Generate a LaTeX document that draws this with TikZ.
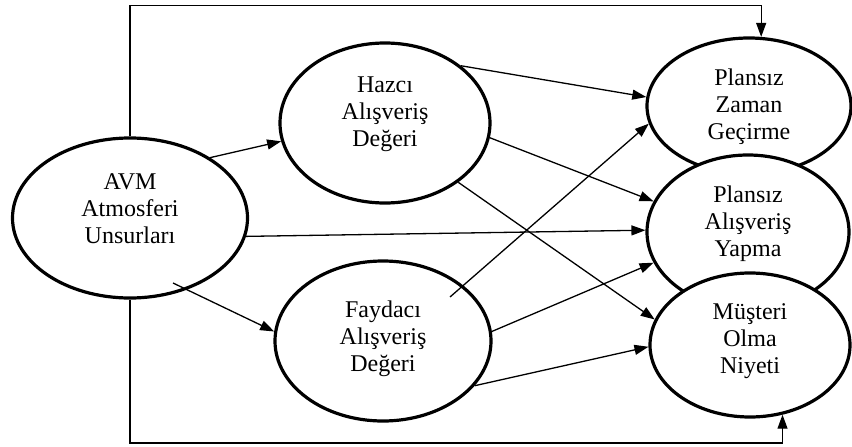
\documentclass[tikz,border=0pt]{standalone}
\usepackage{fontspec}
\setmainfont{Liberation Serif}
\usetikzlibrary{arrows.meta,calc,shapes.geometric}
\begin{document}
\begin{tikzpicture}[x=1pt,y=-1pt,
  ell/.style={ellipse,draw=black,line width=3.2pt,fill=white,inner sep=0pt},
  lbl/.style={align=center,font=\fontsize{24}{27}\selectfont,inner sep=0pt},
  arr/.style={line width=1.3pt,-{Triangle[length=14pt,width=10pt]}}]
\useasboundingbox (0,0) rectangle (852,447);
% ellipses
\node[ell,minimum width=235pt,minimum height=160pt] (A) at (130,218) {};
\node[ell,minimum width=210pt,minimum height=160pt] (H) at (385,123) {};
\node[ell,minimum width=216pt,minimum height=160pt] (F) at (383,341) {};
\node[ell,minimum width=204pt,minimum height=136pt] (Z) at (749,106) {};
\node[ell,minimum width=202pt,minimum height=154pt] (Y) at (748,232) {};
\node[ell,minimum width=200pt,minimum height=144pt] (M) at (750,345) {};
% texts
\node[lbl] (At) at (130,209) {AVM\\Atmosferi\\Unsurları};
\node[lbl] (Ht) at (385,114) {Hazcı\\Alışveriş\\Değeri};
\node[lbl] (Ft) at (383,339) {Faydacı\\Alışveriş\\Değeri};
\node[lbl] (Zt) at (749,107) {Plansız\\Zaman\\Geçirme};
\node[lbl] (Yt) at (748,224) {Plansız\\Alışveriş\\Yapma};
\node[lbl] (Mt) at (750,341) {Müşteri\\Olma\\Niyeti};
% connectors
\draw[arr] (A.37) -- (H.190);
\draw[arr] ($(A.center)+(43,65)$) -- (F.175);
\draw[arr] (A.-9) -- (Y.179);
\draw[arr] (H.37) -- (Z.175);
\draw[arr] (H.-8) -- (Y.162);
\draw[arr] (H.-39) -- (M.165);
\draw[arr] ($(F.center)+(67,-44)$) -- (Z.190);
\draw[arr] (F.5) -- (Y.198);
\draw[arr] (F.-26) -- (M.181);
\draw[arr] (A.north) -- (A.north |- 0,5.5) -| (Z.80);
\draw[arr] (A.south) -- (A.south |- 0,443) -| (M.-65);
\end{tikzpicture}
\end{document}
